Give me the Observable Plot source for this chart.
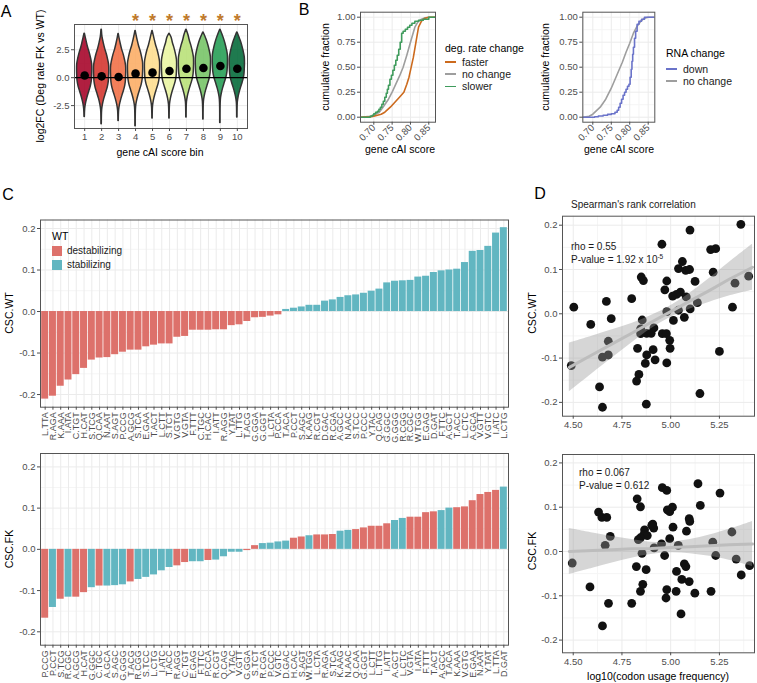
<!DOCTYPE html>
<html><head><meta charset="utf-8">
<script src="https://cdn.jsdelivr.net/npm/d3@7"></script>
<script src="https://cdn.jsdelivr.net/npm/@observablehq/plot@0.6"></script>
<style>
body{margin:0;background:#fff;}
#fig{position:relative;width:757px;height:683px;overflow:hidden;font-family:"Liberation Sans",Arial,Helvetica,sans-serif;background:#fff;}
.abs{position:absolute;white-space:nowrap;line-height:1;}
</style></head><body><div id="fig"></div>
<script>
// ---------------- Panel A data ----------------
const binLabels = [1,2,3,4,5,6,7,8,9,10];
const binMean = [0.20,0.12,0.06,0.36,0.45,0.60,0.80,0.86,1.04,0.80];
const binMin  = [-3.51,-4.17,-3.87,-4.35,-3.66,-3.66,-3.57,-3.75,-4.05,-3.57];
const binMax  = [3.93,4.29,3.90,4.17,4.17,3.93,4.29,4.05,4.29,4.05];
const binFill = ["#a50026","#d3322b","#f16d43","#fcac63","#fedd8d","#e9f5a1","#b7e075","#74c364","#229c52","#006837"];
const starBins = [4,5,6,7,8,9,10];
const violinDy    = [-3.0,-2.5,-2.0,-1.5,-1.0,-0.5,0.0,0.5,1.0,1.5,2.0,2.5,3.0,3.5];
const violinHalfW = [0.03,0.08,0.16,0.26,0.36,0.42,0.44,0.45,0.44,0.38,0.30,0.20,0.12,0.05];
const hlineA = [0];

// ---------------- Panel B data ----------------
const fasterX = [0.664,0.690,0.700,0.710,0.720,0.730,0.745,0.760,0.770,0.782,0.790,0.796,0.802,0.808,0.815,0.822,0.830,0.840,0.850,0.868];
const fasterY = [0,0.003,0.01,0.02,0.03,0.05,0.10,0.16,0.20,0.25,0.33,0.40,0.50,0.60,0.75,0.90,0.96,0.99,1.0,1.0];
const noChgX  = [0.664,0.690,0.700,0.715,0.725,0.740,0.750,0.760,0.770,0.780,0.790,0.800,0.812,0.820,0.830,0.840,0.850,0.868];
const noChgY  = [0,0.01,0.02,0.05,0.10,0.18,0.25,0.33,0.41,0.50,0.62,0.75,0.90,0.95,0.98,0.995,1.0,1.0];
const slowerX = [0.664,0.690,0.696,0.700,0.705,0.710,0.714,0.718,0.722,0.726,0.730,0.734,0.737,0.740,0.744,0.748,0.752,0.756,0.760,0.764,0.768,0.772,0.776,0.780,0.786,0.792,0.798,0.804,0.812,0.822,0.835,0.850,0.868];
const slowerY = [0,0.01,0.02,0.035,0.05,0.06,0.08,0.10,0.13,0.16,0.20,0.24,0.28,0.32,0.38,0.42,0.47,0.52,0.57,0.62,0.68,0.75,0.84,0.86,0.88,0.90,0.92,0.94,0.96,0.97,0.98,1.0,1.0];
const rnaDownX = [0.673,0.705,0.715,0.728,0.740,0.750,0.760,0.766,0.770,0.774,0.778,0.782,0.786,0.790,0.794,0.798,0.801,0.804,0.806,0.808,0.810,0.813,0.816,0.820,0.825,0.832,0.840,0.868];
const rnaDownY = [0,0.005,0.012,0.02,0.028,0.035,0.05,0.07,0.10,0.14,0.18,0.22,0.25,0.28,0.31,0.33,0.40,0.48,0.56,0.63,0.70,0.79,0.86,0.93,0.96,0.98,1.0,1.0];
const rnaNoX = [0.673,0.690,0.700,0.720,0.735,0.750,0.765,0.780,0.790,0.800,0.810,0.820,0.830,0.840,0.850,0.868];
const rnaNoY = [0,0.01,0.03,0.10,0.18,0.29,0.42,0.55,0.65,0.74,0.84,0.91,0.96,0.99,1.0,1.0];

// ---------------- Panel C data ----------------
const wtCodons = ["L.TTA","R.AGA","K.AAA","I.ATA","C.TGT","H.CAT","S.TCG","Q.CAA","N.AAT","S.AGT","P.CCG","A.GCG","S.TCA","E.GAA","T.ACT","L.CTT","S.TCT","V.GTG","V.GTA","F.TTT","C.TGC","H.CAC","I.ATT","R.AGG","Y.TAT","L.TTG","T.ACG","G.GGA","G.GGT","L.CTA","P.CCA","T.ACA","P.CCT","S.AGC","K.AAG","R.CGT","D.GAC","R.CGA","A.GCC","N.AAC","S.TCC","P.CCC","Y.TAC","Q.CAG","G.GGC","G.GGG","R.CGG","R.CGC","W.TGG","E.GAG","D.GAT","F.TTC","A.GCT","T.ACC","L.CTC","A.GCA","V.GTT","V.GTC","I.ATC","L.CTG"];
const wtCsc = [-0.211,-0.204,-0.180,-0.165,-0.152,-0.137,-0.117,-0.112,-0.111,-0.104,-0.098,-0.093,-0.093,-0.085,-0.081,-0.078,-0.078,-0.062,-0.060,-0.045,-0.045,-0.045,-0.044,-0.044,-0.034,-0.032,-0.024,-0.015,-0.014,-0.011,-0.008,0.005,0.008,0.011,0.015,0.015,0.025,0.028,0.034,0.038,0.040,0.044,0.049,0.054,0.069,0.073,0.074,0.075,0.083,0.085,0.094,0.098,0.100,0.102,0.118,0.145,0.147,0.157,0.189,0.202];
const fkCodons = ["P.CCG","P.CCT","S.TCG","R.CGC","A.GCG","H.CAT","G.GGC","C.TGC","A.GCA","S.AGC","G.GGG","T.ACG","R.CGG","S.TCC","L.CTG","I.ATC","T.ACC","R.AGG","C.TGT","E.GAG","F.TTC","P.CCA","R.CGT","Q.CAG","Y.TAC","V.GTT","G.GGA","S.TCT","R.CGA","P.CCC","V.GTC","D.GAC","H.CAC","S.AGT","W.TGG","L.CTA","R.AGA","S.TCA","K.AAG","N.AAC","Q.CAA","G.GGT","L.CTT","L.TTG","I.ATT","A.GCT","L.CTC","V.GTA","I.ATA","F.TTT","T.ACT","A.GCC","T.ACA","K.AAA","V.GTG","E.GAA","N.AAT","Y.TAT","L.TTA","D.GAT"];
const fkCsc = [-0.167,-0.141,-0.121,-0.116,-0.116,-0.105,-0.093,-0.089,-0.089,-0.088,-0.086,-0.079,-0.073,-0.068,-0.062,-0.052,-0.044,-0.040,-0.032,-0.030,-0.030,-0.027,-0.026,-0.018,-0.007,-0.007,-0.003,0.009,0.014,0.015,0.018,0.020,0.027,0.030,0.033,0.035,0.035,0.036,0.044,0.046,0.048,0.052,0.056,0.056,0.062,0.070,0.075,0.078,0.078,0.089,0.091,0.094,0.100,0.101,0.103,0.118,0.133,0.138,0.143,0.151];
const classNames = ["destabilizing","stabilizing"];
const classColors = ["#dd716b","#62b6c1"];

// ---------------- Panel D data ----------------
const dTopX = [5.36,5.099,4.955,5.205,5.231,5.06,5.04,5.077,5.097,5.218,5.40,4.849,4.86,4.98,5.125,5.33,4.97,5.05,5.03,5.01,5.08,4.80,4.67,5.137,5.317,4.503,5.10,5.04,4.98,5.07,4.695,5.014,4.59,4.854,4.846,4.914,4.846,4.877,4.957,4.978,4.995,4.68,5.25,4.997,4.83,4.91,4.68,4.65,4.877,4.92,4.98,4.87,4.49,4.837,4.825,4.635,5.15,4.65,4.875,4.90];
const dTopY = [0.202,0.189,0.157,0.145,0.147,0.118,0.102,0.098,0.100,0.094,0.085,0.083,0.075,0.074,0.073,0.069,0.054,0.049,0.044,0.040,0.038,0.034,0.028,0.025,0.015,0.015,0.011,0.008,0.005,-0.008,-0.011,-0.015,-0.024,-0.014,-0.034,-0.032,-0.045,-0.044,-0.045,-0.045,-0.060,-0.062,-0.085,-0.078,-0.078,-0.081,-0.093,-0.098,-0.093,-0.104,-0.111,-0.112,-0.117,-0.137,-0.152,-0.165,-0.180,-0.211,-0.204,-0.044];
const dBotX = [5.14,4.957,4.98,5.253,4.828,5.152,5.009,4.845,4.983,4.995,4.63,4.647,4.672,5.095,5.098,4.908,4.913,5.012,4.866,5.081,5.314,4.862,4.88,4.69,4.845,4.834,4.995,4.953,5.216,5.039,4.915,4.664,4.853,4.969,5.231,5.336,5.405,4.495,5.07,5.078,4.824,4.874,5.03,5.362,5.057,5.095,4.857,4.586,4.845,4.98,5.028,5.124,5.207,4.976,4.681,4.80,5.053,4.65,4.903];
const dBotY = [0.153,0.144,0.138,0.132,0.119,0.104,0.100,0.101,0.094,0.090,0.089,0.077,0.077,0.074,0.068,0.062,0.053,0.055,0.049,0.046,0.044,0.038,0.036,0.034,0.031,0.027,0.029,0.017,0.021,0.014,0.008,0.014,-0.004,-0.009,-0.009,-0.017,-0.032,-0.026,-0.028,-0.034,-0.034,-0.041,-0.045,-0.053,-0.063,-0.068,-0.074,-0.080,-0.090,-0.086,-0.090,-0.094,-0.090,-0.105,-0.117,-0.117,-0.141,-0.168,0.059];
const bandX = [4.48,4.60,4.70,4.80,4.90,5.00,5.10,5.20,5.30,5.42];
const topFit  = [-0.121,-0.092,-0.068,-0.044,-0.019,0.005,0.029,0.053,0.078,0.105];
const topLow  = [-0.176,-0.134,-0.100,-0.066,-0.034,-0.008,0.011,0.026,0.040,0.053];
const topHigh = [-0.066,-0.050,-0.036,-0.022,-0.004,0.018,0.047,0.080,0.116,0.157];
const botFit  = [0.000,0.002,0.004,0.006,0.007,0.009,0.011,0.013,0.015,0.017];
const botLow  = [-0.052,-0.038,-0.026,-0.015,-0.007,-0.003,-0.005,-0.011,-0.020,-0.034];
const botHigh = [0.052,0.042,0.034,0.027,0.021,0.021,0.027,0.037,0.050,0.068];

// ---------------- helpers ----------------
const FONT = '"Liberation Sans", Arial, Helvetica, sans-serif';
const fig = document.getElementById("fig");
const GRID = "#ebebeb", GRIDMIN = "#f5f5f5", FRAME = "#555555", TICKTXT = "#4d4d4d";
function place(svg, left, top) {
  svg.style.position = "absolute";
  svg.style.left = left + "px";
  svg.style.top = top + "px";
  fig.appendChild(svg);
}
function mk(opts, left, top) {
  const svg = Plot.plot({...opts, style: {fontFamily: FONT, fontSize: "9.5px", background: "transparent", overflow: "visible", color: "#000"}});
  place(svg, left, top);
}
function txt(s, x, y, o = {}) {
  const d = document.createElement("div");
  d.className = "abs";
  d.innerHTML = s;
  d.style.left = x + "px"; d.style.top = y + "px";
  d.style.fontSize = (o.size || 10.5) + "px";
  d.style.color = o.color || "#000";
  let tr = "";
  if (o.anchor === "center") tr += "translate(-50%,-50%) ";
  else if (o.anchor === "left") tr += "translate(0,-50%) ";
  if (o.rotate) tr += `rotate(${o.rotate}deg)`;
  d.style.transform = tr;
  fig.appendChild(d);
  return d;
}
function legendLine(x, y, color, label) {
  const l = document.createElement("div");
  l.className = "abs";
  l.style.left = x + "px"; l.style.top = (y - 0.8) + "px";
  l.style.width = "11px"; l.style.height = "1.7px"; l.style.background = color;
  fig.appendChild(l);
  txt(label, x + 17, y, {anchor: "left", size: 10.5, color: "#1a1a1a"});
}
function legendKey(x, y, color, label) {
  const l = document.createElement("div");
  l.className = "abs";
  l.style.left = x + "px"; l.style.top = (y - 5) + "px";
  l.style.width = "10px"; l.style.height = "10px"; l.style.background = color;
  fig.appendChild(l);
  txt(label, x + 15, y, {anchor: "left", size: 10, color: "#1a1a1a"});
}
const fmt1 = d => d.toFixed(1);
const fmt2 = d => d.toFixed(2);

// ---------------- Panel A ----------------
const violinMarks = binLabels.map((b, i) => {
  const c = binMean[i], lo = binMin[i], hi = binMax[i];
  const rows = [{y: lo, w: 0.01}];
  violinDy.forEach((dy, k) => { const y = c + dy; if (y > lo + 0.25 && y < hi - 0.25) rows.push({y, w: violinHalfW[k]}); });
  rows.push({y: hi, w: 0.01});
  return Plot.areaX(rows, {y: "y", x1: r => b - r.w, x2: r => b + r.w, fill: binFill[i], fillOpacity: 0.88, stroke: "#333", strokeWidth: 1.5, curve: "catmull-rom"});
});
mk({
  width: 250, height: 160, marginLeft: 74, marginRight: 3, marginTop: 24, marginBottom: 32,
  x: {type: "linear", domain: [0.4, 10.6]},
  y: {domain: [-4.55, 4.76]},
  marks: [
    Plot.gridY({ticks: [-3.75, -1.25, 1.25, 3.75], stroke: GRIDMIN, strokeOpacity: 1}),
    Plot.gridY({ticks: [-2.5, 0, 2.5], stroke: GRID, strokeOpacity: 1}),
    Plot.gridX({ticks: binLabels, stroke: GRID, strokeOpacity: 1}),
    ...violinMarks,
    Plot.ruleY(hlineA, {stroke: "#000", strokeWidth: 1.2}),
    Plot.dot(binLabels, {x: d => d, y: (d, i) => binMean[i], r: 4.3, fill: "#000", stroke: "none"}),
    Plot.text(starBins, {x: d => d, y: 5.05, text: () => "*", fill: "#c07a2c", fontSize: 18, fontWeight: "bold"}),
    Plot.frame({stroke: FRAME}),
    Plot.axisY({ticks: [-2.5, 0, 2.5], tickFormat: fmt1, tickSize: 3, tickPadding: 2, label: null, color: TICKTXT, fontSize: 9.5}),
    Plot.axisX({ticks: binLabels, tickFormat: d => String(d), tickSize: 3, tickPadding: 2, label: null, color: TICKTXT, fontSize: 9.5})
  ]
}, 0, 0);
txt("A", 6, 12, {anchor: "center", size: 16});
txt("log2FC (Deg rate FK vs WT)", 40, 76, {anchor: "center", rotate: -90, size: 10.5});
txt("gene cAI score bin", 160, 152, {anchor: "center", size: 10.5});

// ---------------- Panel B ----------------
const zip = (xs, ys) => xs.map((x, i) => ({x, y: ys[i]}));
function bPlot(left, mL, mR, xdom, lines) {
  mk({
    width: 140, height: 160, marginLeft: mL, marginRight: mR, marginTop: 11.7, marginBottom: 38.3,
    x: {domain: xdom}, y: {domain: [-0.05, 1.05]},
    marks: [
      Plot.gridX({ticks: [0.675, 0.725, 0.775, 0.825], stroke: GRIDMIN, strokeOpacity: 1}),
      Plot.gridY({ticks: [0.125, 0.375, 0.625, 0.875], stroke: GRIDMIN, strokeOpacity: 1}),
      Plot.gridX({ticks: [0.70, 0.75, 0.80, 0.85], stroke: GRID, strokeOpacity: 1}),
      Plot.gridY({ticks: [0, 0.25, 0.5, 0.75, 1], stroke: GRID, strokeOpacity: 1}),
      ...lines.map(l => Plot.line(zip(l.x, l.y), {x: "x", y: "y", stroke: l.color, strokeWidth: 1.6, curve: l.curve, clip: true})),
      Plot.frame({stroke: FRAME}),
      Plot.axisY({ticks: [0, 0.25, 0.5, 0.75, 1], tickFormat: fmt2, tickSize: 3, tickPadding: 2, label: null, color: TICKTXT, fontSize: 9.5}),
      Plot.axisX({ticks: [0.70, 0.75, 0.80, 0.85], tickFormat: fmt2, tickRotate: -45, tickSize: 3, tickPadding: 1, label: null, color: TICKTXT, fontSize: 9.5})
    ]
  }, left, 0);
}
bPlot(300, 60, 5, [0.6637, 0.8683], [
  {x: noChgX, y: noChgY, color: "#9e9e9e", curve: "linear"},
  {x: fasterX, y: fasterY, color: "#cc6a1d", curve: "linear"},
  {x: slowerX, y: slowerY, color: "#3f9b5c", curve: "step-after"}
]);
bPlot(520, 62.3, 5.7, [0.6729, 0.8679], [
  {x: rnaNoX, y: rnaNoY, color: "#9e9e9e", curve: "linear"},
  {x: rnaDownX, y: rnaDownY, color: "#6a73c9", curve: "step-after"}
]);
txt("B", 304, 10, {anchor: "center", size: 16});
txt("cumulative fraction", 325, 67, {anchor: "center", rotate: -90, size: 10.5});
txt("gene cAI score", 400, 149, {anchor: "center", size: 10.5});
txt("cumulative fraction", 545, 67, {anchor: "center", rotate: -90, size: 10.5});
txt("gene cAI score", 619, 149, {anchor: "center", size: 10.5});
txt("deg. rate change", 445, 48, {anchor: "left", size: 10.5});
legendLine(445, 61.7, "#cc6a1d", "faster");
legendLine(445, 74, "#9e9e9e", "no change");
legendLine(445, 86.3, "#3f9b5c", "slower");
txt("RNA change", 666, 52.7, {anchor: "left", size: 10.5});
legendLine(666, 69, "#6a73c9", "down");
legendLine(666, 80.7, "#9e9e9e", "no change");

// ---------------- Panel C ----------------
const wtClassOf = Object.fromEntries(wtCodons.map((c, i) => [c, wtCsc[i] < 0 ? 0 : 1]));
function cPlot(top, height, mT, mB, ydom, codons, values) {
  const rows = codons.map((c, i) => ({codon: c, v: values[i], cls: wtClassOf[c]}));
  mk({
    width: 515, height, marginLeft: 40, marginRight: 7, marginTop: mT, marginBottom: mB,
    x: {type: "band", domain: codons, paddingInner: 0.1, paddingOuter: 0.15},
    y: {domain: ydom},
    marks: [
      Plot.gridY({ticks: [-0.15, -0.05, 0.05, 0.15], stroke: GRIDMIN, strokeOpacity: 1}),
      Plot.gridY({ticks: [-0.2, -0.1, 0, 0.1, 0.2], stroke: GRID, strokeOpacity: 1}),
      Plot.gridX({stroke: GRID, strokeOpacity: 1}),
      Plot.barY(rows, {x: "codon", y: "v", fill: d => classColors[d.cls]}),
      Plot.frame({stroke: FRAME}),
      Plot.axisY({ticks: [-0.2, -0.1, 0, 0.1, 0.2], tickFormat: fmt1, tickSize: 3, tickPadding: 2, label: null, color: TICKTXT, fontSize: 9.5}),
      Plot.axisX({tickRotate: -90, tickSize: 3, tickPadding: 2, label: null, color: TICKTXT, fontSize: 9})
    ]
  }, 0, top);
}
cPlot(190, 250, 29.5, 33.3, [-0.2305, 0.2205], wtCodons, wtCsc);
cPlot(440, 243, 13, 38.3, [-0.2325, 0.2325], fkCodons, fkCsc);
txt("C", 8, 195, {anchor: "center", size: 16});
txt("CSC.WT", 9, 313, {anchor: "center", rotate: -90, size: 10.5});
txt("CSC.FK", 9, 549, {anchor: "center", rotate: -90, size: 10.5});
txt("WT", 52, 236, {anchor: "left", size: 10.5});
legendKey(52, 251, classColors[0], classNames[0]);
legendKey(52, 265, classColors[1], classNames[1]);

// ---------------- Panel D ----------------
function dPlot(top, height, mT, mB, ydom, xs, ys, fit, low, high) {
  const pts = xs.map((x, i) => ({x, y: ys[i]}));
  const band = bandX.map((x, i) => ({x, f: fit[i], lo: low[i], hi: high[i]}));
  mk({
    width: 240, height, marginLeft: 42, marginRight: 6, marginTop: mT, marginBottom: mB,
    x: {domain: [4.445, 5.43]}, y: {domain: ydom},
    marks: [
      Plot.gridX({ticks: [4.625, 4.875, 5.125, 5.375], stroke: GRIDMIN, strokeOpacity: 1}),
      Plot.gridY({ticks: [-0.15, -0.05, 0.05, 0.15], stroke: GRIDMIN, strokeOpacity: 1}),
      Plot.gridX({ticks: [4.5, 4.75, 5.0, 5.25], stroke: GRID, strokeOpacity: 1}),
      Plot.gridY({ticks: [-0.2, -0.1, 0, 0.1, 0.2], stroke: GRID, strokeOpacity: 1}),
      Plot.dot(pts, {x: "x", y: "y", r: 4.4, fill: "#111", stroke: "none"}),
      Plot.areaY(band, {x: "x", y1: "lo", y2: "hi", fill: "#999", fillOpacity: 0.4, curve: "catmull-rom"}),
      Plot.line(band, {x: "x", y: "f", stroke: "#bdbdbd", strokeWidth: 3}),
      Plot.frame({stroke: FRAME}),
      Plot.axisY({ticks: [-0.2, -0.1, 0, 0.1, 0.2], tickFormat: fmt1, tickSize: 3, tickPadding: 2, label: null, color: TICKTXT, fontSize: 9.5}),
      Plot.axisX({ticks: [4.5, 4.75, 5.0, 5.25], tickFormat: fmt2, tickSize: 3, tickPadding: 2, label: null, color: TICKTXT, fontSize: 9.5})
    ]
  }, 520, top);
}
dPlot(190, 250, 25.7, 24.3, [-0.2312, 0.2203], dTopX, dTopY, topFit, topLow, topHigh);
dPlot(440, 243, 14, 30.7, [-0.2287, 0.219], dBotX, dBotY, botFit, botLow, botHigh);
txt("D", 540, 194, {anchor: "center", size: 16});
txt("Spearman's rank correlation", 571, 205, {anchor: "left", size: 10, color: "#1a1a1a"});
txt("CSC.WT", 532, 313, {anchor: "center", rotate: -90, size: 10.5});
txt("CSC.FK", 532, 551, {anchor: "center", rotate: -90, size: 10.5});
txt("rho = 0.55", 571, 247, {anchor: "left", size: 10, color: "#1a1a1a"});
txt("P-value = 1.92 x 10<sup style=\"font-size:6.5px;vertical-align:4px\">-5</sup>", 571, 259, {anchor: "left", size: 10, color: "#1a1a1a"});
txt("rho = 0.067", 579, 473, {anchor: "left", size: 10, color: "#1a1a1a"});
txt("P-value = 0.612", 579, 486, {anchor: "left", size: 10, color: "#1a1a1a"});
txt("log10(codon usage frequency)", 658, 676, {anchor: "center", size: 10.5});
</script></body></html>
